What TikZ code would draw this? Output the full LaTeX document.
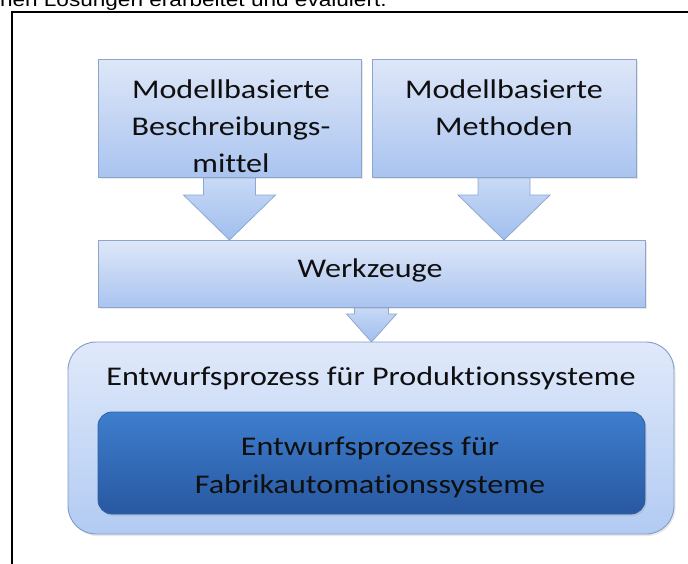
\documentclass[tikz,border=0pt]{standalone}
\usepackage{fontspec}
\setmainfont{Carlito}[FakeStretch=1.19, Ligatures=NoCommon]
\newfontfamily\topfont{Liberation Sans}[FakeStretch=1.17]
\usetikzlibrary{calc,shadows,backgrounds}
\definecolor{boxtop}{RGB}{222,231,248}
\definecolor{boxbot}{RGB}{170,196,240}
\definecolor{boxline}{RGB}{140,165,205}
\definecolor{arrtop}{RGB}{200,218,246}
\definecolor{arrbot}{RGB}{160,190,238}
\definecolor{arrline}{RGB}{140,168,210}
\definecolor{outtop}{RGB}{224,233,250}
\definecolor{outbot}{RGB}{178,203,243}
\definecolor{outline}{RGB}{128,155,198}
\definecolor{innertop}{RGB}{62,126,206}
\definecolor{innerbot}{RGB}{40,88,160}
\definecolor{innerline}{RGB}{50,95,160}
\definecolor{txtcol}{RGB}{15,15,15}
\newcommand{\blockarr}[6]{%
  \draw[#1] let \p1=(#2), \p2=(#3) in
    (\x1-#4,\y1) -- (\x1-#4,\y2+#6) -- (\x1-#5,\y2+#6) -- (\x1,\y2)
    -- (\x1+#5,\y2+#6) -- (\x1+#4,\y2+#6) -- (\x1+#4,\y1) -- cycle;}
\begin{document}
\begin{tikzpicture}[x=1pt,y=-1pt,
  every node/.style={inner sep=0pt, outer sep=0pt},
  txt/.style={anchor=base, font=\fontsize{27}{36}\selectfont, text=txtcol},
  softshadow/.style={drop shadow={opacity=0.18, shadow xshift=1.5pt, shadow yshift=-2pt}},
  lightbox/.style={draw=boxline, line width=0.9pt, top color=boxtop, bottom color=boxbot, softshadow},
  outerbox/.style={draw=outline, line width=0.9pt, top color=outtop, bottom color=outbot, rounded corners=28pt, softshadow},
  innerbox/.style={draw=innerline, line width=0.8pt, top color=innertop, bottom color=innerbot, rounded corners=14pt, softshadow},
  arr/.style={draw=arrline, line width=0.8pt, top color=arrtop, bottom color=arrbot, line join=miter}]
\useasboundingbox (0,0) rectangle (688,563);

% cut-off caption and frame
\node[anchor=base west, font=\topfont\fontsize{19.3}{22}\selectfont, text=black] (toptxt) at (0,6) {hen Lösungen erarbeitet und evaluiert.};
\draw[line width=2pt] (12,566) -- (12,12) -- (692,12);

% boxes
\node[lightbox, minimum width=263pt, minimum height=118pt] (b1) at (229.5,118) {};
\node[lightbox, minimum width=264pt, minimum height=118pt] (b2) at (504,118) {};
\node[lightbox, minimum width=547pt, minimum height=67pt] (wz) at (371.5,273.5) {};
\node[outerbox, minimum width=606pt, minimum height=192pt] (out) at (371,438) {};
\node[innerbox, minimum width=547pt, minimum height=102pt] (inn) at (371.5,463) {};

% block arrows behind the boxes
\begin{pgfonlayer}{background}
\blockarr{arr}{b1.south}{wz.north}{26pt}{46pt}{45pt}
\blockarr{arr}{b2.south}{wz.north}{26pt}{46pt}{45pt}
\blockarr{arr}{wz.south}{out.north}{17pt}{25pt}{28pt}
\end{pgfonlayer}

% texts
\node[txt] (t1a) at (231,98) {Modellbasierte};
\node[txt] (t1b) at (231,135) {Beschreibungs-};
\node[txt] (t1c) at (231,172) {mittel};
\node[txt] (t2a) at (504,98) {Modellbasierte};
\node[txt] (t2b) at (504,135) {Methoden};
\node[txt] (twz) at (370,277) {Werkzeuge};
\node[txt] (tout) at (371,385) {Entwurfsprozess für Produktionssysteme};
\node[txt] (tina) at (370,455) {Entwurfsprozess für};
\node[txt] (tinb) at (370,493) {Fabrikautomationssysteme};
\end{tikzpicture}
\end{document}
